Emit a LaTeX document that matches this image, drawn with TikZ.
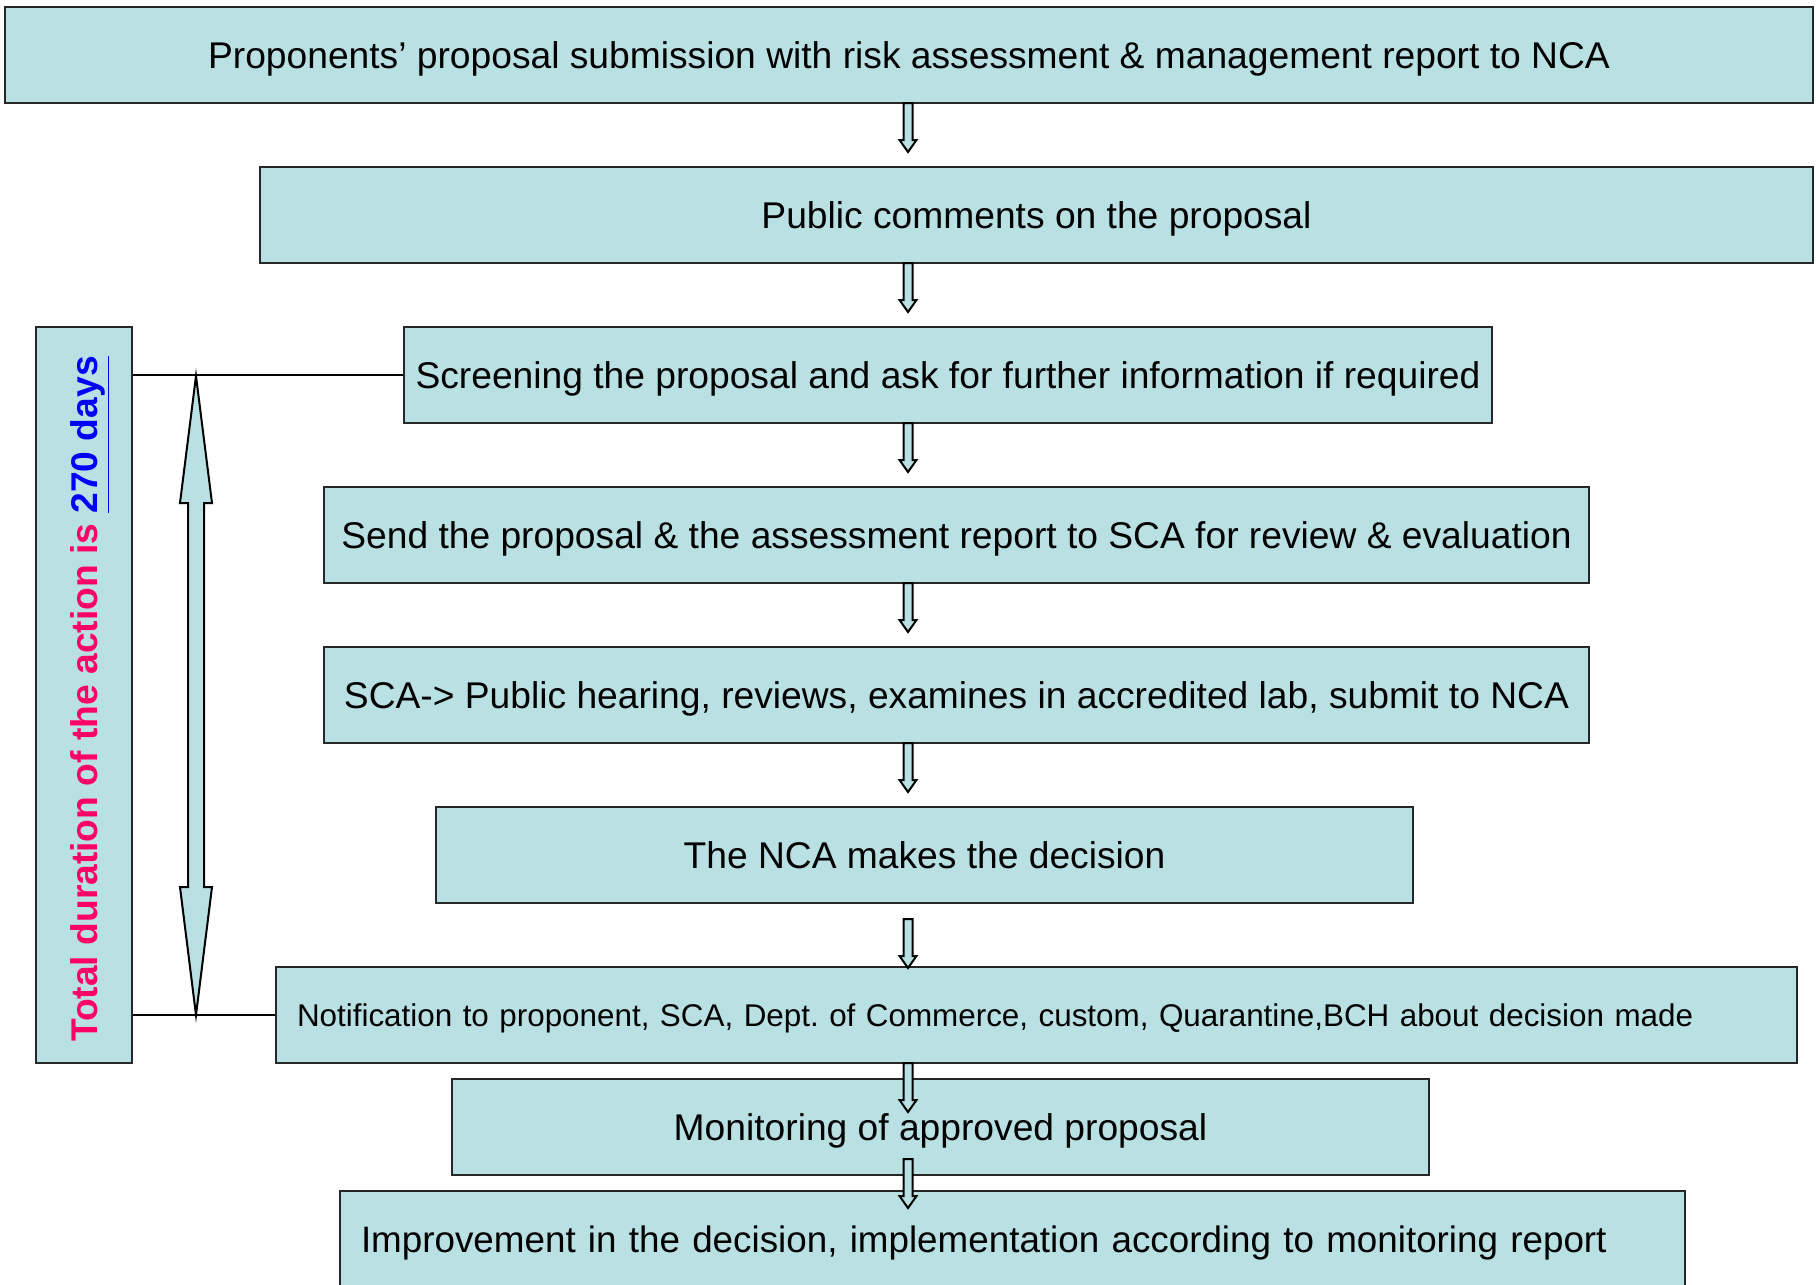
\documentclass[tikz,border=0pt]{standalone}
\usepackage{fontspec}
\setmainfont{Liberation Sans}
\usepackage{xcolor}
\frenchspacing
\definecolor{boxfill}{RGB}{185,224,227}
\definecolor{durpink}{RGB}{255,0,102}
\tikzset{
  box/.style={draw=black!85, line width=1pt, fill=boxfill, inner xsep=10.5pt,
    minimum height=48pt, text depth=0pt, font=\fontsize{18.6}{22}\selectfont},
  downarrow/.pic={\draw[line width=1pt, fill=boxfill] (-4.5,0) -- (4.5,0) -- (4.5,37)
    -- (8.5,37) -- (0,49) -- (-8.5,37) -- (-4.5,37) -- cycle;}
}

\begin{document}
\begin{tikzpicture}[x=0.5pt, y=-0.5pt]
    \useasboundingbox (0,0) rectangle (1816,1285);
    % Etapas do processo
    \node[box, minimum width=904pt] (submit) at (909,55)
        {Proponents’ proposal submission with risk assessment \& management report to NCA};
    \node[box, minimum width=776.5pt] (public) at (1036.5,215)
        {Public comments on the proposal};
    \node[box, minimum width=544pt, inner xsep=4pt] (screen) at (948,375)
        {Screening the proposal and ask for further information if required};
    \node[box, minimum width=632.5pt, inner xsep=4pt] (send) at (956.5,535)
        {Send the proposal \& the assessment report to SCA for review \& evaluation};
    \node[box, minimum width=632.5pt, inner xsep=4pt] (hearing) at (956.5,695)
        {SCA-> Public hearing, reviews, examines in accredited lab, submit to NCA};
    \node[box, minimum width=488.5pt] (decide) at (924.5,855)
        {The NCA makes the decision};
    \node[box, align=left, text width=739.5pt, font=\fontsize{15.7}{19}\selectfont] (notify) at (1036.5,1015)
        {Notification to proponent, SCA, Dept. of Commerce, custom, Quarantine,BCH about decision made};
    \node[box, minimum width=488.5pt] (monitor) at (940.5,1127)
        {Monitoring of approved proposal};
    \node[box, align=left, text width=651.5pt, font=\fontsize{18.4}{22}\selectfont] (improve) at (1012.5,1239)
        {Improvement in the decision, implementation according to monitoring report};
    % Setas entre as etapas
    \foreach \y in {103,263,423,583,743,919,1063,1159}
        \pic at (908,\y) {downarrow};
    % Caixa da duração total
    \node[box, minimum width=48pt, minimum height=368pt] (total) at (84,695) {};
    \node[rotate=90, inner sep=0pt, font=\fontsize{18.6}{22}\selectfont\bfseries] (totaltext)
        at ([xshift=3pt, yshift=-2pt]total.center)
        {\textcolor{durpink}{Total duration of the action is }\textcolor{blue}{\underline{270 days}}};
    \draw[line width=1pt] (total.east |- screen.west) -- (screen.west);
    \draw[line width=1pt] (total.east |- notify.west) -- (notify.west);
    % Seta dupla
    \draw[line width=1pt, fill=boxfill] (196,376) -- (212,503) -- (204,503) -- (204,887)
        -- (212,887) -- (196,1015) -- (180,887) -- (188,887) -- (188,503) -- (180,503) -- cycle;
\end{tikzpicture}
\end{document}
